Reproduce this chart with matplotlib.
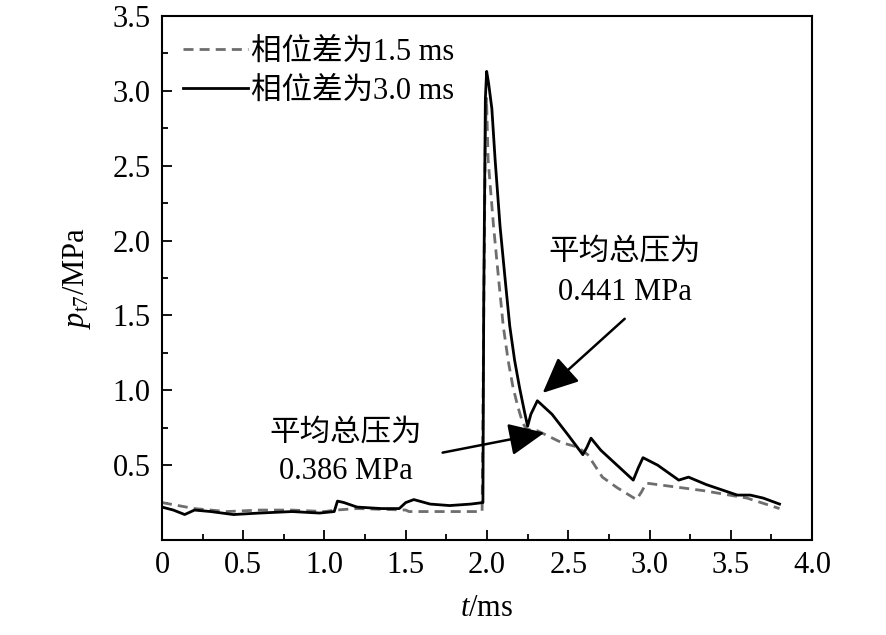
import matplotlib
matplotlib.use("Agg")
import matplotlib.pyplot as plt
from matplotlib.ticker import MultipleLocator

# fonts: Times-like for latin, CJK fallback for the chinese
plt.rcParams['font.family'] = ['Liberation Serif', 'Noto Sans CJK SC']
plt.rcParams['mathtext.fontset'] = 'custom'
plt.rcParams['mathtext.rm'] = 'Liberation Serif'
plt.rcParams['mathtext.it'] = 'Liberation Serif:italic'

# phase difference 1.5 ms (dashed)
t_15 = [0.00, 0.10, 0.20, 0.40, 0.60, 0.80, 1.00, 1.07, 1.20, 1.50, 1.52, 1.80, 1.97,
        1.98, 1.99, 1.997, 2.007, 2.04, 2.07, 2.10, 2.13, 2.16, 2.19, 2.22, 2.245,
        2.31, 2.46, 2.56, 2.62, 2.71, 2.80, 2.92, 2.95, 2.98, 3.05, 3.33, 3.60, 3.80]
p_15 = [0.25, 0.23, 0.21, 0.19, 0.20, 0.20, 0.19, 0.20, 0.21, 0.20, 0.19, 0.19, 0.19,
        1.50, 2.70, 2.95, 2.54, 2.10, 1.76, 1.43, 1.20, 1.02, 0.89, 0.78, 0.74,
        0.73, 0.65, 0.62, 0.57, 0.42, 0.35, 0.27, 0.32, 0.38, 0.37, 0.33, 0.28, 0.21]

# phase difference 3.0 ms (solid)
t_30 = [0.00, 0.07, 0.14, 0.20, 0.30, 0.44, 0.60, 0.80, 0.97, 1.06, 1.08, 1.12, 1.20,
        1.35, 1.46, 1.50, 1.55, 1.65, 1.77, 1.90, 1.975,
        1.98, 1.99, 1.998, 2.01, 2.03, 2.05, 2.08, 2.11, 2.14, 2.17, 2.20, 2.23, 2.25,
        2.27, 2.31, 2.40, 2.50, 2.59, 2.615, 2.64, 2.70, 2.80, 2.90, 2.93, 2.96, 3.05,
        3.18, 3.24, 3.35, 3.54, 3.62, 3.70, 3.80]
p_30 = [0.22, 0.20, 0.17, 0.20, 0.19, 0.17, 0.18, 0.19, 0.18, 0.19, 0.26, 0.25, 0.22,
        0.21, 0.21, 0.25, 0.27, 0.24, 0.23, 0.24, 0.25,
        1.60, 2.95, 3.13, 3.05, 2.88, 2.54, 2.10, 1.76, 1.43, 1.20, 1.02, 0.86, 0.76,
        0.84, 0.93, 0.84, 0.70, 0.57, 0.62, 0.68, 0.60, 0.50, 0.40, 0.48, 0.55, 0.50,
        0.40, 0.42, 0.37, 0.30, 0.30, 0.28, 0.24]

labels = ['相位差为1.5 ms', '相位差为3.0 ms']
note_hi = '平均总压为\n0.441 MPa'
note_lo = '平均总压为\n0.386 MPa'

fs = 22

fig = plt.figure(figsize=(8.86, 6.35), dpi=100)
ax = fig.add_axes([0.1828, 0.1496, 0.7337, 0.8252])

ax.plot(t_15, p_15, color='#6e6e6e', lw=2.0, ls=(0, (3.6, 2.2)), label=labels[0])
ax.plot(t_30, p_30, color='black', lw=2.0, label=labels[1])

ax.set_xlim(0, 4.0)
ax.set_ylim(0, 3.5)
ax.xaxis.set_minor_locator(MultipleLocator(0.25))
ax.yaxis.set_minor_locator(MultipleLocator(0.25))
ax.set_xticks([0, 0.5, 1.0, 1.5, 2.0, 2.5, 3.0, 3.5, 4.0])
ax.set_xticklabels(['0', '0.5', '1.0', '1.5', '2.0', '2.5', '3.0', '3.5', '4.0'])
ax.set_yticks([0.5, 1.0, 1.5, 2.0, 2.5, 3.0, 3.5])
ax.set_yticklabels(['0.5', '1.0', '1.5', '2.0', '2.5', '3.0', '3.5'])
ax.tick_params(which='both', direction='in', labelsize=fs, width=1.3)
ax.tick_params(which='major', length=7, pad=8)
ax.tick_params(which='minor', length=4.5)
for sp in ax.spines.values():
    sp.set_linewidth(1.5)

ax.set_xlabel(r'$t$/ms', fontsize=fs, labelpad=10)
ax.set_ylabel(r'$p_{\mathrm{t7}}$/MPa', fontsize=fs, labelpad=14)

ax.legend(loc='upper left', frameon=False, fontsize=fs, handlelength=2.1,
          handletextpad=0.1, labelspacing=0.35, borderaxespad=0.3,
          bbox_to_anchor=(0.0, 1.0))

# annotations
arrow = dict(arrowstyle='-|>,head_length=1.1,head_width=0.5',
             color='black', lw=1.8, mutation_scale=20)
ax.text(2.85, 1.79, note_hi, fontsize=fs, ha='center', va='center', linespacing=1.5)
ax.annotate('', xy=(2.33, 0.97), xytext=(2.86, 1.49), arrowprops=arrow)
ax.text(1.13, 0.585, note_lo, fontsize=fs, ha='center', va='center', linespacing=1.4)
ax.annotate('', xy=(2.37, 0.72), xytext=(1.71, 0.58), arrowprops=arrow)

fig.savefig('out.png', dpi=100)
